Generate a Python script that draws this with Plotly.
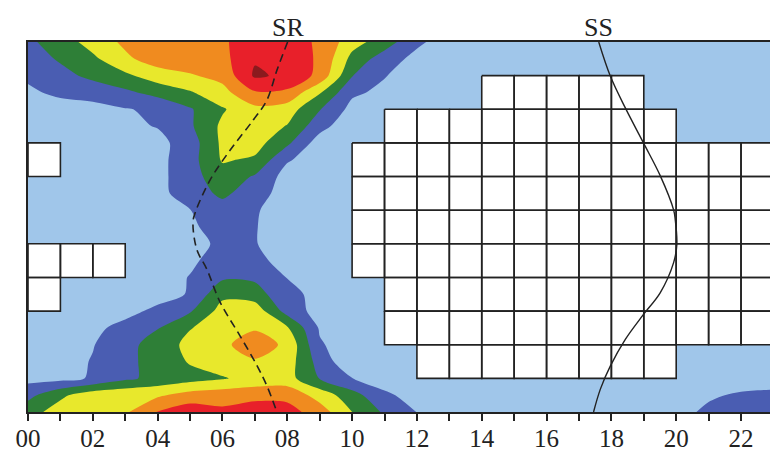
import plotly.graph_objects as go

# Hour of day along x, row index (top to bottom) along y
hours = [0, 1, 2, 3, 4, 5, 6, 7, 8, 9, 10, 11, 12, 13, 14, 15, 16, 17, 18, 19, 20, 21, 22, 23, 24]
rows = [0, 0.5, 1, 1.5, 2, 2.5, 3, 3.5, 4, 4.5, 5, 5.5, 6, 6.5, 7, 7.5, 8, 8.5, 9, 9.5, 10, 10.5, 11]

# Gridded intensity class values (one list per row of the grid)
z = [
    [1.8, 2.5, 3.4, 4.2, 4.5, 4.7, 4.9, 5.4, 5.3, 4.9, 3.4, 2.5, 1.2, 0.5, 0.5, 0.5, 0.5, 0.5, 0.5, 0.5, 0.5, 0.5, 0.5, 0.5, 0.5],
    [1.6, 2.1, 2.8, 3.8, 4.5, 4.6, 4.7, 5.9, 5.4, 4.9, 2.7, 1.5, 0.7, 0.5, 0.5, 0.5, 0.5, 0.5, 0.5, 0.5, 0.5, 0.5, 0.5, 0.5, 0.5],
    [1.2, 1.75, 2.2, 2.8, 3.5, 3.9, 4.3, 6.15, 5.8, 4.72, 2.05, 1.05, 0.5, 0.5, 0.5, 0.5, 0.5, 0.5, 0.5, 0.5, 0.5, 0.5, 0.5, 0.5, 0.5],
    [0.8, 1.25, 1.5, 1.8, 2.34, 2.9, 3.67, 4.9, 4.8, 3.1, 1.17, 0.78, 0.5, 0.5, 0.5, 0.5, 0.5, 0.5, 0.5, 0.5, 0.5, 0.5, 0.5, 0.5, 0.5],
    [0.5, 0.5, 0.6, 0.95, 1.15, 1.9, 2.9, 3.73, 3.5, 2.05, 0.7, 0.5, 0.5, 0.5, 0.5, 0.5, 0.5, 0.5, 0.5, 0.5, 0.5, 0.5, 0.5, 0.5, 0.5],
    [0.5, 0.5, 0.5, 0.8, 1.05, 1.85, 3.2, 3.6, 2.95, 1.37, 0.3, 0.4, 0.5, 0.5, 0.5, 0.5, 0.5, 0.5, 0.5, 0.5, 0.5, 0.5, 0.5, 0.5, 0.5],
    [0.5, 0.5, 0.5, 0.5, 0.7, 1.5, 3.2, 3.4, 2.2, 0.5, 0.5, 0.5, 0.5, 0.5, 0.5, 0.5, 0.5, 0.5, 0.5, 0.5, 0.5, 0.5, 0.5, 0.5, 0.5],
    [0.5, 0.5, 0.5, 0.5, 0.7, 1.6, 3.1, 2.85, 1.1, 0.5, 0.5, 0.5, 0.5, 0.5, 0.5, 0.5, 0.5, 0.5, 0.5, 0.5, 0.5, 0.5, 0.5, 0.5, 0.5],
    [0.5, 0.5, 0.5, 0.5, 0.7, 1.6, 2.6, 1.9, 0.6, 0.5, 0.5, 0.5, 0.5, 0.5, 0.5, 0.5, 0.5, 0.5, 0.5, 0.5, 0.5, 0.5, 0.5, 0.5, 0.5],
    [0.5, 0.5, 0.5, 0.5, 0.7, 1.5, 2.2, 1.5, 0.5, 0.5, 0.5, 0.5, 0.5, 0.5, 0.5, 0.5, 0.5, 0.5, 0.5, 0.5, 0.5, 0.5, 0.5, 0.5, 0.5],
    [0.5, 0.5, 0.5, 0.5, 0.5, 0.98, 1.6, 1.1, 0.5, 0.5, 0.5, 0.5, 0.5, 0.5, 0.5, 0.5, 0.5, 0.5, 0.5, 0.5, 0.5, 0.5, 0.5, 0.5, 0.5],
    [0.5, 0.5, 0.5, 0.5, 0.5, 0.8, 1.5, 1.05, 0.5, 0.5, 0.5, 0.5, 0.5, 0.5, 0.5, 0.5, 0.5, 0.5, 0.5, 0.5, 0.5, 0.5, 0.5, 0.5, 0.5],
    [0.5, 0.5, 0.5, 0.5, 0.5, 0.5, 1.3, 1.05, 0.5, 0.5, 0.5, 0.5, 0.5, 0.5, 0.5, 0.5, 0.5, 0.5, 0.5, 0.5, 0.5, 0.5, 0.5, 0.5, 0.5],
    [0.5, 0.5, 0.5, 0.5, 0.5, 0.8, 1.5, 1.3, 0.6, 0.5, 0.5, 0.5, 0.5, 0.5, 0.5, 0.5, 0.5, 0.5, 0.5, 0.5, 0.5, 0.5, 0.5, 0.5, 0.5],
    [0.5, 0.5, 0.5, 0.5, 0.5, 1.05, 1.85, 1.8, 0.98, 0.5, 0.5, 0.5, 0.5, 0.5, 0.5, 0.5, 0.5, 0.5, 0.5, 0.5, 0.5, 0.5, 0.5, 0.5, 0.5],
    [0.5, 0.5, 0.5, 0.5, 0.5, 1.1, 2.77, 2.5, 1.18, 0.82, 0.5, 0.5, 0.5, 0.5, 0.5, 0.5, 0.5, 0.5, 0.5, 0.5, 0.5, 0.5, 0.5, 0.5, 0.5],
    [0.5, 0.5, 0.5, 0.6, 1.3, 1.9, 3.4, 3.6, 1.6, 0.6, 0.5, 0.5, 0.5, 0.5, 0.5, 0.5, 0.5, 0.5, 0.5, 0.5, 0.5, 0.5, 0.5, 0.5, 0.5],
    [0.5, 0.5, 0.7, 1.4, 1.95, 2.95, 3.5, 3.9, 3.1, 0.9, 0.5, 0.5, 0.5, 0.5, 0.5, 0.5, 0.5, 0.5, 0.5, 0.5, 0.5, 0.5, 0.5, 0.5, 0.5],
    [0.5, 0.6, 0.95, 1.7, 2.4, 3.3, 3.8, 4.5, 3.8, 1.1, 0.5, 0.5, 0.5, 0.5, 0.5, 0.5, 0.5, 0.5, 0.5, 0.5, 0.5, 0.5, 0.5, 0.5, 0.5],
    [0.5, 0.6, 1.06, 1.8, 2.3, 3.1, 3.6, 3.9, 3.5, 1.6, 0.2, 0.5, 0.5, 0.5, 0.5, 0.5, 0.5, 0.5, 0.5, 0.5, 0.5, 0.5, 0.5, 0.5, 0.5],
    [0.7, 0.7, 1.1, 1.8, 2.3, 2.6, 2.9, 3.4, 3.4, 1.95, 1.02, 0.5, 0.5, 0.5, 0.5, 0.5, 0.5, 0.5, 0.5, 0.5, 0.5, 0.5, 0.6, 0.6, 0.6],
    [1.7, 2.8, 3.6, 3.8, 3.85, 4.4, 4.6, 4.6, 4.7, 3.6, 2.4, 1.2, 0.6, 0.5, 0.5, 0.5, 0.5, 0.5, 0.5, 0.5, 0.5, 0.9, 1.1, 1.2, 1.2],
    [2.6, 3.45, 3.6, 3.85, 5.05, 5.6, 5.2, 5.7, 5.4, 4.5, 3.0, 1.85, 0.98, 0.5, 0.5, 0.5, 0.5, 0.5, 0.5, 0.5, 0.75, 1.15, 1.4, 1.5, 1.5],
]

# Class fill colours, lowest to highest
band_colors = ["#A0C6EA", "#4A5DB2", "#2E7F37", "#E8E82C", "#F08B1F", "#E8202A", "#8B1A1E"]

# Cells without data: (row, first hour, last hour)
blank_runs = [
    (1, 14, 18), (2, 11, 19),
    (3, 0, 0), (3, 10, 23),
    (4, 10, 23), (5, 10, 23),
    (6, 0, 2), (6, 10, 23),
    (7, 0, 0), (7, 11, 23),
    (8, 11, 23), (9, 12, 19),
]

# Sunrise and sunset curves
sr_row = [0.0, 0.84, 1.73, 2.32, 3.21, 4.10, 5.07, 5.37, 6.17, 6.76, 7.74, 8.75, 9.63, 10.22, 11.0]
sr_hour = [8.01, 7.68, 7.37, 6.95, 6.24, 5.62, 5.16, 5.09, 5.21, 5.52, 5.93, 6.55, 7.07, 7.37, 7.68]
ss_row = [0.0, 1.02, 1.96, 3.0, 3.98, 4.99, 5.28, 6.02, 6.56, 7.45, 8.10, 8.84, 9.63, 10.32, 11.0]
ss_hour = [17.61, 17.97, 18.43, 18.99, 19.51, 19.92, 19.97, 20.02, 19.92, 19.51, 18.99, 18.43, 17.97, 17.66, 17.45]

tick_hours = [0, 1, 2, 3, 4, 5, 6, 7, 8, 9, 10, 11, 12, 13, 14, 15, 16, 17, 18, 19, 20, 21, 22, 23]
tick_labels = ["00", "", "02", "", "04", "", "06", "", "08", "", "10", "", "12", "", "14", "", "16", "", "18", "", "20", "", "22", ""]

FONT = "Liberation Serif, Times New Roman, serif"
INK = "#222222"

n = len(band_colors) - 1
colorscale = [[i / n, c] for i, c in enumerate(band_colors)]

fig = go.Figure()

fig.add_trace(go.Contour(
    x=hours, y=rows, z=z,
    colorscale=colorscale, showscale=False,
    contours=dict(start=1, end=6, size=1, coloring="fill"),
    line=dict(width=0, smoothing=0.8),
    hoverinfo="skip",
))

cell_x, cell_y = [], []
for row, c0, c1 in blank_runs:
    for c in range(c0, c1 + 1):
        cell_x += [c, c + 1, c + 1, c, c, None]
        cell_y += [row, row, row + 1, row + 1, row, None]

fig.add_trace(go.Scatter(
    x=cell_x, y=cell_y, mode="lines", fill="toself", fillcolor="white",
    line=dict(color=INK, width=1.6), hoverinfo="skip", showlegend=False,
))

fig.add_trace(go.Scatter(
    x=sr_hour, y=sr_row, mode="lines",
    line=dict(color=INK, width=1.6, dash="8px,5px", shape="spline"),
    hoverinfo="skip", showlegend=False,
))
fig.add_trace(go.Scatter(
    x=ss_hour, y=ss_row, mode="lines",
    line=dict(color=INK, width=1.4, shape="spline"),
    hoverinfo="skip", showlegend=False,
))

for label, xpos in (("SR", sr_hour[0]), ("SS", ss_hour[0])):
    fig.add_annotation(
        x=xpos, y=1, xref="x", yref="paper", yanchor="bottom", yshift=-2,
        text=label, showarrow=False, font=dict(family=FONT, size=26, color=INK),
    )

fig.update_layout(
    template="none",
    width=770, height=456,
    margin=dict(l=28, r=0, t=42, b=44, pad=0),
    paper_bgcolor="white", plot_bgcolor="white",
    showlegend=False,
    xaxis=dict(
        range=[0, 22.894], tickvals=tick_hours, ticktext=tick_labels,
        ticks="outside", ticklen=7, tickwidth=1.5, tickcolor=INK,
        ticklabelstandoff=-4,
        showline=True, mirror=True, linecolor=INK, linewidth=2,
        showgrid=False, zeroline=False, automargin=False,
        tickfont=dict(family=FONT, size=25, color=INK),
    ),
    yaxis=dict(
        range=[11, 0], showticklabels=False, ticks="",
        showline=True, mirror=False, linecolor=INK, linewidth=2,
        showgrid=False, zeroline=False, automargin=False,
    ),
)

fig.write_html("out.html")
